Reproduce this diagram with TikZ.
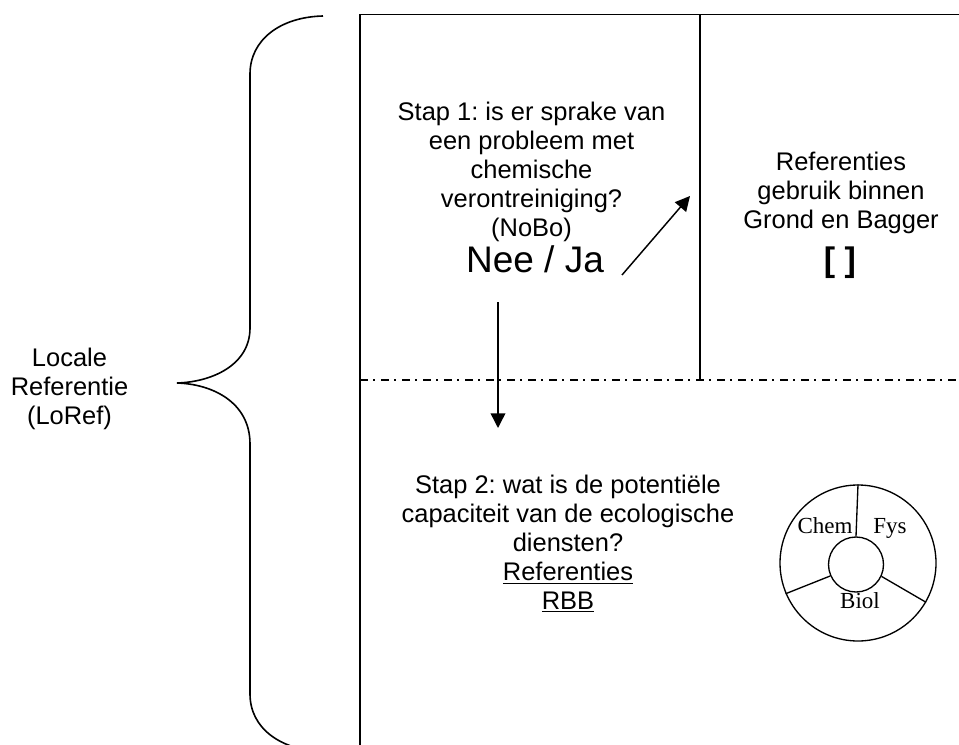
\documentclass[tikz,border=0pt]{standalone}
\usepackage{fontspec}
\setmainfont{Liberation Sans}
\newfontfamily\timesfont{Liberation Serif}
\usetikzlibrary{arrows.meta}
\frenchspacing
\begin{document}
\begin{tikzpicture}[x=0.75pt,y=-0.75pt,
  txt/.style={font=\frenchspacing\fontsize{19.1pt}{21.75pt}\selectfont, align=center, inner sep=0pt, anchor=north},
  big/.style={font=\fontsize{27.75pt}{32pt}\selectfont, inner sep=0pt, anchor=north},
  brk/.style={font=\bfseries\fontsize{25.5pt}{30pt}\selectfont, inner sep=0pt},
  lbl/.style={font=\timesfont\fontsize{17.25pt}{20pt}\selectfont, inner sep=0pt, anchor=base},
  frame/.style={line width=1.2pt},
  arr/.style={line width=1.1pt, -{Triangle[length=11pt,width=11pt]}},
  ddot/.style={line width=1.1pt, dash pattern=on 6pt off 3.75pt on 1.5pt off 4.5pt},
  ring/.style={draw, circle, line width=1pt, inner sep=0pt}]
\useasboundingbox (0,0) rectangle (959,745);
\clip (0,0) rectangle (959,745);
% frame
\draw[frame] (959,14.5) -- (360,14.5) -- (360,746);
\draw[frame] (700,14.5) -- (700,380);
\draw[ddot] (360,380) -- (959,380);
% brace
\draw[line width=1.2pt] (323,16) .. controls (280,17) and (250,40) .. (250,74)
  -- (250,328) .. controls (250,365) and (212,382) .. (177,383)
  .. controls (212,384) and (250,402) .. (250,444)
  -- (250,694) .. controls (250,728) and (280,750) .. (323,752);
\node[txt] (loref) at (69.5,348) {Locale\\Referentie\\(LoRef)};
% step 1
\node[txt] (stap1) at (531.5,101.5) {Stap 1: is er sprake van\\een probleem met\\chemische\\verontreiniging?\\(NoBo)};
\node[big] (neeja) at (535,245) {Nee / Ja};
% right text
\node[txt] (refgb) at (841,151.7) {Referenties\\gebruik binnen\\Grond en Bagger};
\node[brk] (brackets) at (840,263) {[ ]};
% step 2
\node[txt] (stap2) at (568,475) {Stap 2: wat is de potentiële\\capaciteit van de ecologische\\diensten?\\\underline{Referenties}\\\underline{RBB}};
% arrows
\coordinate (d1) at (498,302);
\coordinate (d2) at (498,428);
\coordinate (j1) at (622,275);
\coordinate (j2) at (690,196);
\draw[arr] (d1) -- (d2);
\draw[arr] (j1) -- (j2);
% circle diagram
\node[ring, minimum size=117pt] (outer) at (858,563) {};
\node[ring, minimum size=41.25pt] (inner) at (856,564.5) {};
\draw[line width=1pt] (inner.90) -- (outer.90);
\draw[line width=1pt] (inner.204) -- (outer.203);
\draw[line width=1pt] (inner.335) -- (outer.330);
\node[lbl] (chem) at (825,533) {Chem};
\node[lbl] (fys) at (890,533) {Fys};
\node[lbl] (biol) at (860,608) {Biol};
\end{tikzpicture}
\end{document}
